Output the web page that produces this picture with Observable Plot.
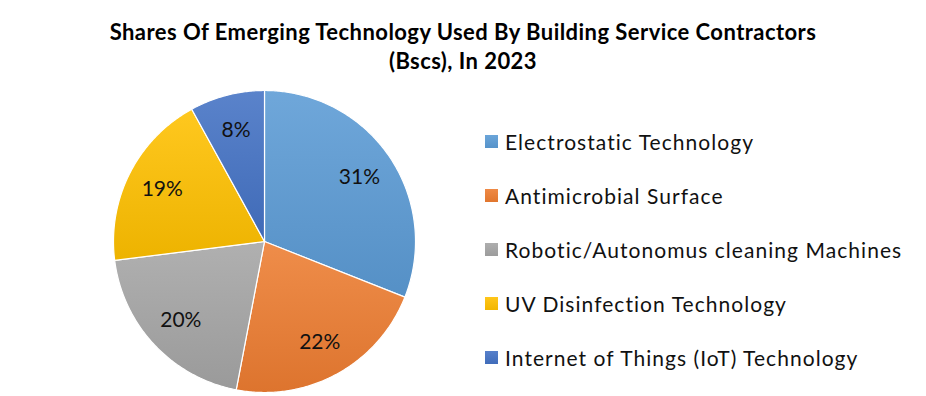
<!DOCTYPE html>
<html>
<head>
<meta charset="utf-8">
<script src="https://cdn.jsdelivr.net/npm/d3@7"></script>
<script src="https://cdn.jsdelivr.net/npm/@observablehq/plot@0.6"></script>
<style>
  html, body { margin: 0; padding: 0; background: #fff; }
  #wrap { position: relative; width: 926px; height: 396px; overflow: hidden; font-family: Lato, "Open Sans", sans-serif; }
  #title { position: absolute; left: 0; top: 17px; width: 926px; text-align: center; font-weight: bold; font-size: 22px; letter-spacing: 0.45px; line-height: 29px; color: #000; }
  #chart { position: absolute; left: 0; top: 77px; }
  #legend { position: absolute; left: 485px; top: 114.5px; }
  .row { display: flex; align-items: center; height: 54px; font-size: 21px; letter-spacing: 1.05px; color: #111; white-space: nowrap; }
  .sw { width: 13px; height: 13px; margin-right: 7px; flex: none; }
</style>
</head>
<body>
<div id="wrap">
  <div id="title">Shares Of Emerging Technology Used By Building Service Contractors<br>(Bscs), In 2023</div>
  <div id="chart"></div>
  <div id="legend"></div>
</div>
<script>
const categories = ["Electrostatic Technology", "Antimicrobial Surface", "Robotic/Autonomus cleaning Machines", "UV Disinfection Technology", "Internet of Things (IoT) Technology"];
const shares = [31, 22, 20, 19, 8];
const labels = ["31%", "22%", "20%", "19%", "8%"];
const colors = ["#5B9BD5", "#ED7D31", "#A5A5A5", "#FFC000", "#4472C4"];

// pie geometry from data
const arcs = d3.pie().sort(null).value(d => d)(shares);
const slicePts = [];
arcs.forEach((a, i) => {
  const n = Math.max(2, Math.ceil((a.endAngle - a.startAngle) / 0.01));
  slicePts.push({i, x: 0, y: 0});
  for (let k = 0; k <= n; k++) {
    const t = a.startAngle + (a.endAngle - a.startAngle) * k / n;
    slicePts.push({i, x: Math.sin(t), y: Math.cos(t)});
  }
  slicePts.push({i, x: 0, y: 0});
});
const labelR = 0.76;
const labelData = arcs.map((a, i) => {
  const m = (a.startAngle + a.endAngle) / 2;
  return {label: labels[i], x: labelR * Math.sin(m), y: labelR * Math.cos(m)};
});

const defsMark = () => {
  const defs = d3.create("svg:defs");
  colors.forEach((c, i) => {
    const g = defs.append("linearGradient").attr("id", "g" + i)
      .attr("x1", 0).attr("y1", 0).attr("x2", 0).attr("y2", 1);
    g.append("stop").attr("offset", "0%").attr("stop-color", d3.interpolateRgb(c, "#ffffff")(0.12));
    g.append("stop").attr("offset", "100%").attr("stop-color", d3.color(c).darker(0.2).formatHex());
  });
  return defs.node();
};

const sliceMarks = categories.map((c, i) =>
  Plot.line(slicePts.filter(d => d.i === i), {
    x: "x", y: "y", fill: `url(#g${i})`, stroke: "#ffffff", strokeWidth: 1.2, curve: "linear"
  })
);

const plot = Plot.plot({
  width: 470,
  height: 319,
  marginLeft: 113,
  marginRight: 55,
  marginTop: 13,
  marginBottom: 4,
  x: {domain: [-1, 1], axis: null},
  y: {domain: [-1, 1], axis: null},
  style: {fontFamily: "Lato, 'Open Sans', sans-serif", background: "transparent"},
  marks: [
    defsMark,
    ...sliceMarks,
    Plot.text(labelData, {x: "x", y: "y", text: "label", fontSize: 21, fill: "#111", letterSpacing: 1})
  ]
});
document.getElementById("chart").appendChild(plot);

const legend = d3.select("#legend");
categories.forEach((c, i) => {
  const row = legend.append("div").attr("class", "row");
  row.append("div").attr("class", "sw").style("background", `linear-gradient(${d3.interpolateRgb(colors[i], "#fff")(0.1)}, ${d3.color(colors[i]).darker(0.15).formatHex()})`);
  row.append("span").text(c);
});
</script>
</body>
</html>
